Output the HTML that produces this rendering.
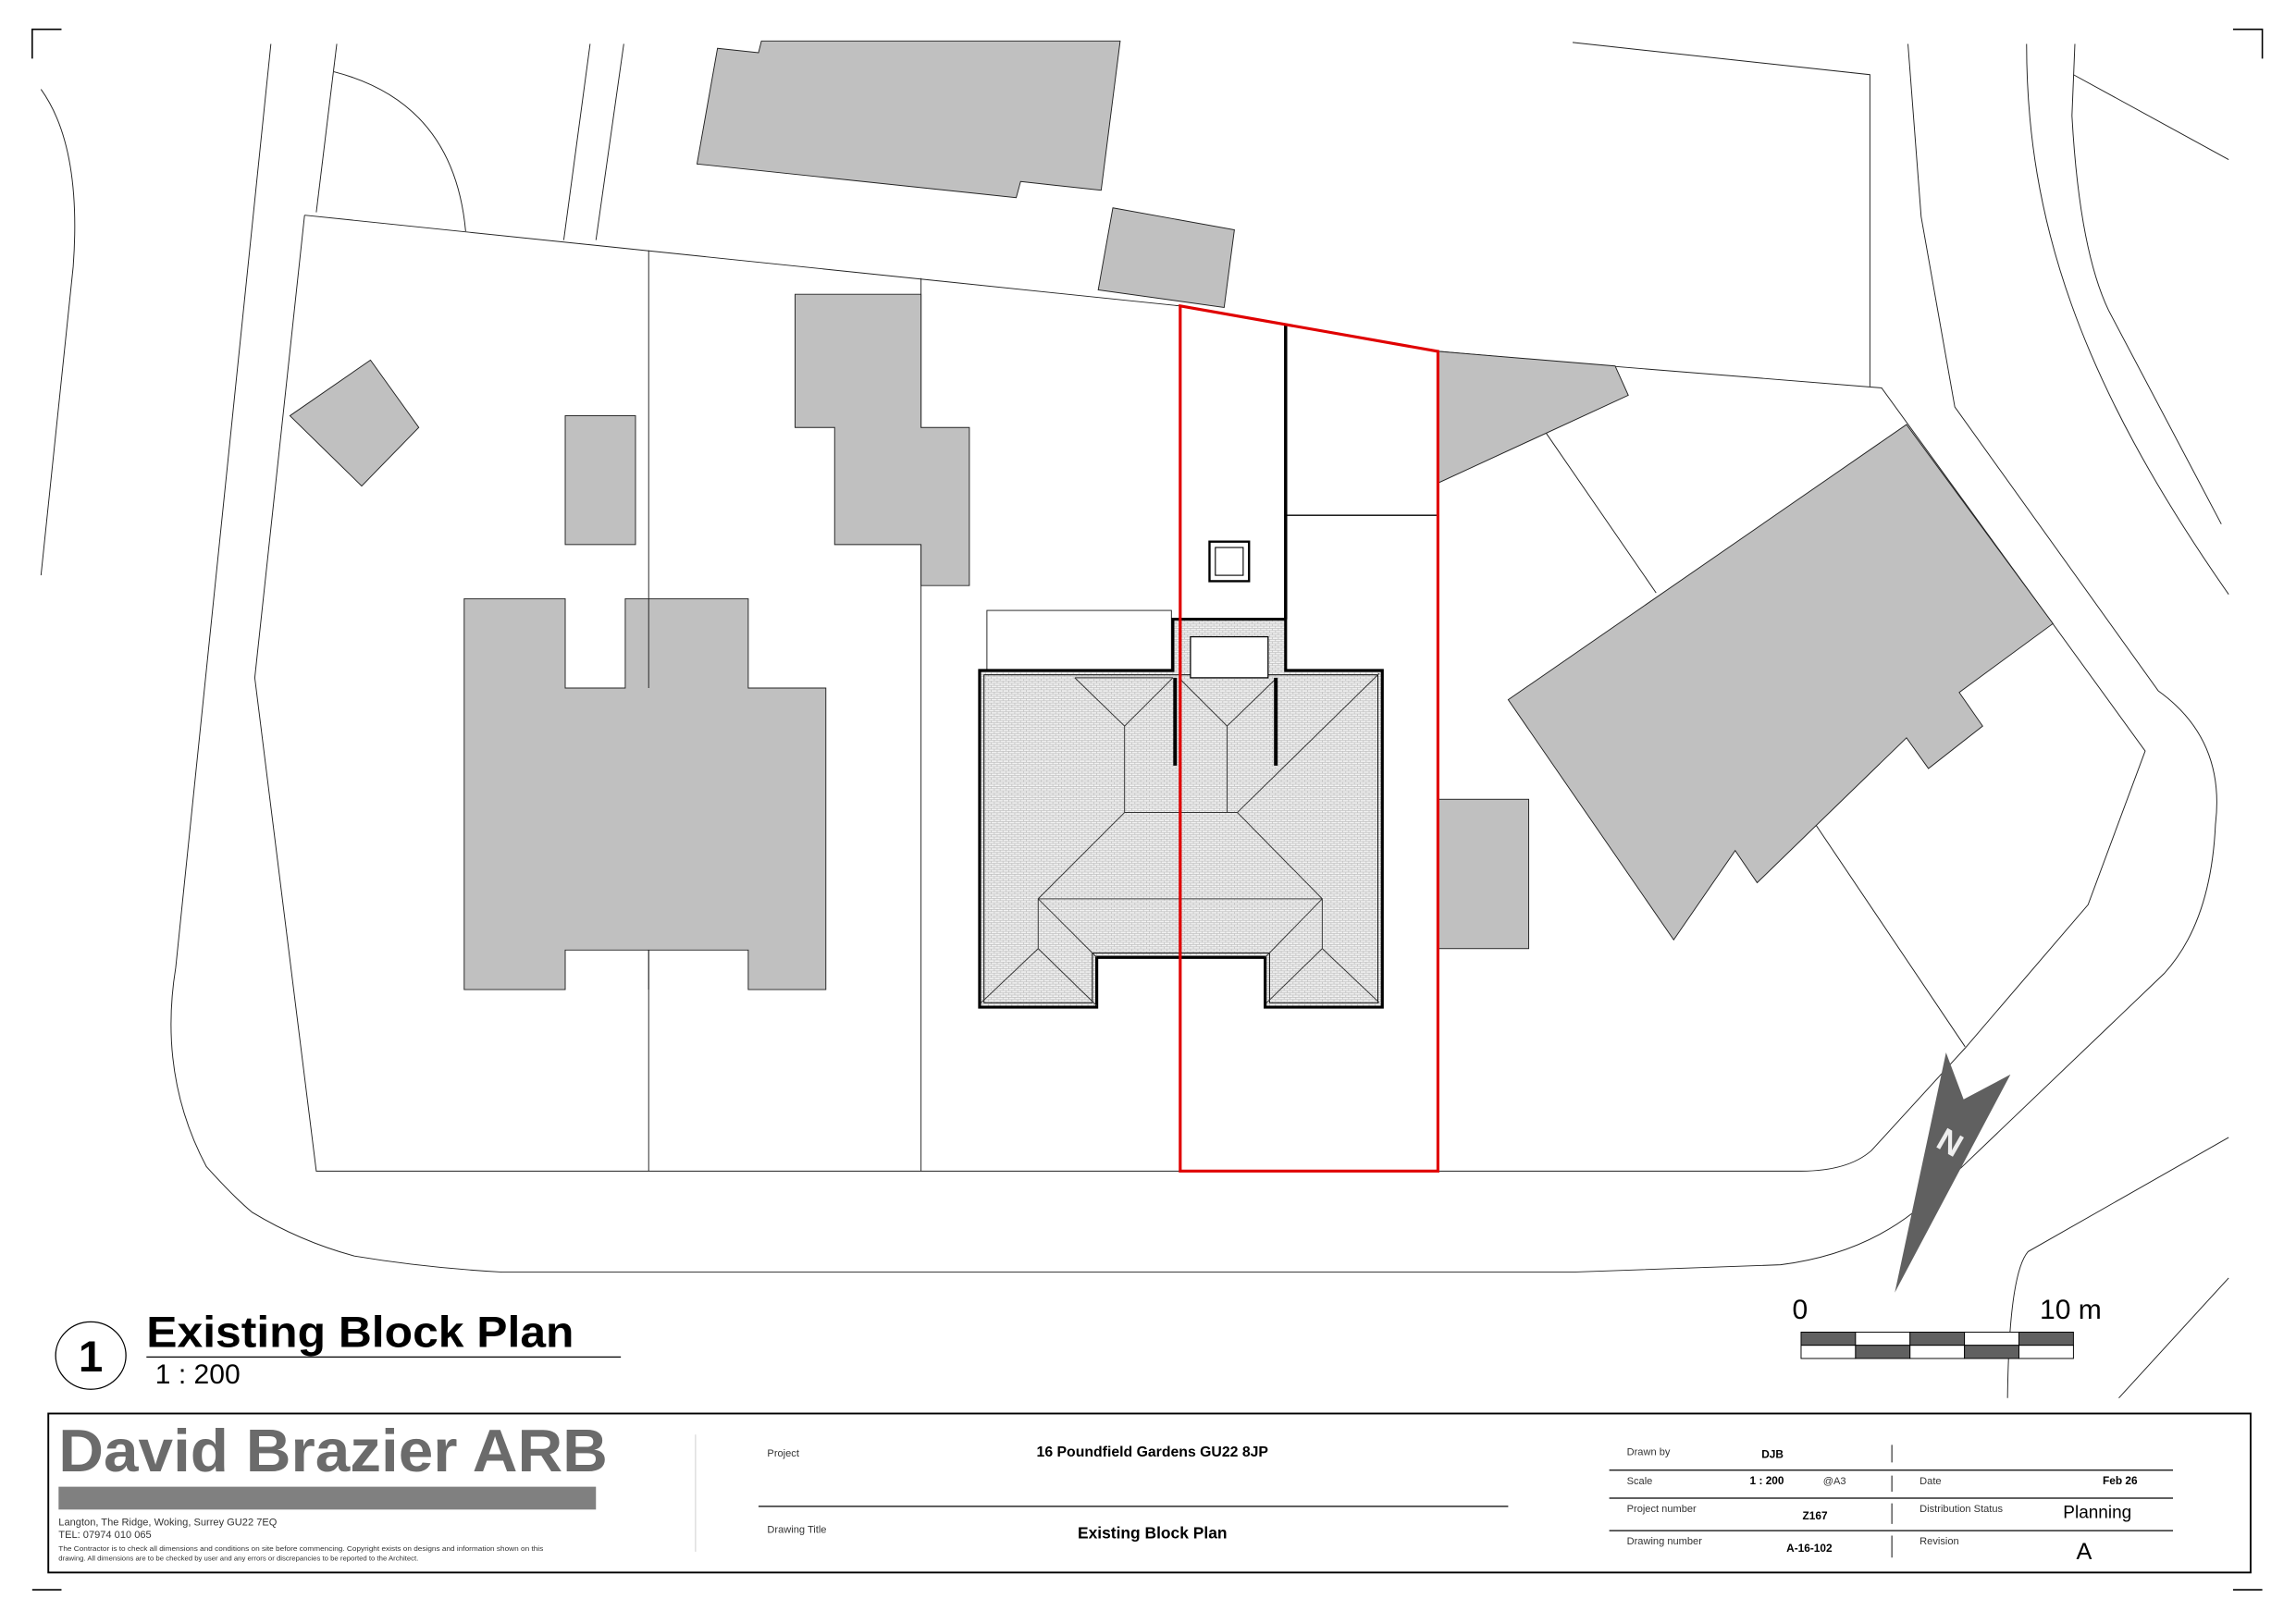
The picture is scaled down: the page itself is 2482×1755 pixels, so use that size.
<!DOCTYPE html>
<html><head><meta charset="utf-8"><style>html,body{margin:0;padding:0;background:#fff}svg{display:block}</style></head>
<body>
<svg width="2482" height="1755" viewBox="0 0 1568 1108.7" preserveAspectRatio="none" xmlns="http://www.w3.org/2000/svg" font-family="Liberation Sans, sans-serif">
<defs>
<pattern id="tile" width="4" height="3" patternUnits="userSpaceOnUse">
<rect width="4" height="3" fill="#f2f2f2"/>
<path d="M0 0.25H4M1 0V1.5M3 1.5V3M0 1.75H4" stroke="#bdbdbd" stroke-width="0.45"/>
</pattern>
</defs>
<rect width="1568" height="1108.7" fill="#fff"/>
<g fill="none" stroke="#000" stroke-width="1">
<path d="M22 40V20H42M1525 20H1545V40M22 1086H42M1525 1086H1545"/>
</g>
<g fill="none" stroke="#222" stroke-width="0.6">
<path d="M28 61Q56 100 50 182L28 393"/>
<path d="M185 30L120 661Q108 735 141 797Q160 818 172 828Q205 848 242 858Q290 866 343 869L1074 869L1216 864Q1270 857 1307 828L1339 798"/>
<path d="M230 30L216 145"/>
<path d="M228 49Q310 70 318 158"/>
<path d="M208 147L174 463L216 800L1230 800Q1262 800 1278 786L1342 716L1426 618L1465 513L1285 265L1074 248"/>
<path d="M208 147L806 209"/>
<path d="M982 240L1074 248"/>
<path d="M403 30L385 164M426 30L407 164"/>
<path d="M443 171V800M629 190V800"/>
<path d="M1074 29L1277 51V264"/>
<path d="M1303 30L1312 148L1335 278L1474 472Q1520 505 1513 563Q1510 630 1478 665L1339 798"/>
<path d="M1056 296L1131 405M1231 550L1342 715"/>
<path d="M1384 30C1384 150 1420 260 1522 406"/>
<path d="M1417 30L1415 79Q1420 170 1440 212L1517 358"/>
<path d="M1416 51L1522 109"/>
<path d="M1522 777L1385 855Q1372 870 1371 955M1522 873L1447 955"/>
</g>
<g fill="#c0c0c0" stroke="#222" stroke-width="0.6">
<path d="M490 33L518 36L520 28L765 28L752 130L697 124L694 135L476 112Z"/>
<path d="M760 142L843 157L836 210L750 198Z"/>
<path d="M198 284L253 246L286 292L247 332Z"/>
<rect x="386" y="284" width="48" height="88"/>
<path d="M317 409H386V470H427V409H511V470H564V676H511V649H386V676H317Z"/>
<path d="M543 201H629V292H662V400H629V372H570V292H543Z"/>
<path d="M982 240L1103 250L1112 270L982 330Z"/>
<path d="M1302 290L1402 426L1338 473L1354 496L1317 525L1302 504L1200 603L1185 581L1143 642L1030 478Z"/>
<rect x="982" y="546" width="62" height="102"/>
</g>
<path d="M443 409V470M443 649V676" stroke="#222" stroke-width="0.6"/>
<rect x="674" y="417" width="126" height="43" fill="#fff" stroke="#222" stroke-width="0.6"/>
<path d="M669 458H801V423H878V458H944V688H864V654H749V688H669Z" fill="url(#tile)" stroke="#000" stroke-width="2"/>
<path d="M672 461H941V685H867V651H746V685H672Z" fill="none" stroke="#000" stroke-width="0.6"/>
<rect x="813" y="435" width="53" height="28" fill="#fff" stroke="#000" stroke-width="0.8"/>
<g stroke="#333" stroke-width="0.6" fill="none">
<path d="M734 463L768 496L801 463M768 496V555M806 464L838 496L871 464M838 496V555M768 555H845"/>
<path d="M768 555L709 614L749 654M845 555L903 614L864 654M845 555L942 460M709 614V648L670 685M709 648L749 687M903 614V648L942 685M903 648L865 685M709 614H903"/>
<path d="M734 463H801"/>
</g>
<path d="M802.5 463V523M871.3 463V523" stroke="#000" stroke-width="2.5"/>
<path d="M878 221V423" stroke="#000" stroke-width="2.2"/>
<path d="M878 352H982" stroke="#000" stroke-width="0.8"/>
<rect x="826" y="370" width="27" height="27" fill="#fff" stroke="#000" stroke-width="1.5"/>
<rect x="830" y="374" width="19" height="19" fill="none" stroke="#000" stroke-width="0.7"/>
<path d="M806 209L982 240V800H806Z" fill="none" stroke="#e00000" stroke-width="2"/>
<path d="M1329 719L1341 751L1373 734L1294 883Z" fill="#606060"/>
<text x="1332" y="788" fill="#eee" font-size="22" font-weight="bold" text-anchor="middle" transform="rotate(30 1332 780)">N</text>
<text x="1224" y="901" font-size="19">0</text>
<text x="1393" y="901" font-size="19">10 m</text>
<g stroke="#000" stroke-width="0.6">
<rect x="1230" y="910" width="37.2" height="9" fill="#606060"/><rect x="1267.2" y="910" width="37.2" height="9" fill="#fff"/><rect x="1304.4" y="910" width="37.2" height="9" fill="#606060"/><rect x="1341.6" y="910" width="37.2" height="9" fill="#fff"/><rect x="1378.8" y="910" width="37.2" height="9" fill="#606060"/>
<rect x="1230" y="919" width="37.2" height="9" fill="#fff"/><rect x="1267.2" y="919" width="37.2" height="9" fill="#606060"/><rect x="1304.4" y="919" width="37.2" height="9" fill="#fff"/><rect x="1341.6" y="919" width="37.2" height="9" fill="#606060"/><rect x="1378.8" y="919" width="37.2" height="9" fill="#fff"/>
</g>
<ellipse cx="62" cy="926" rx="24" ry="23" fill="none" stroke="#000" stroke-width="0.8"/>
<text x="62" y="937" font-size="30" font-weight="bold" text-anchor="middle">1</text>
<text x="100" y="920" font-size="30" font-weight="bold" textLength="292" lengthAdjust="spacingAndGlyphs">Existing Block Plan</text>
<path d="M100 927H424" stroke="#000" stroke-width="0.8"/>
<text x="106" y="945" font-size="19">1 : 200</text>
<rect x="33" y="965.6" width="1504" height="108.6" fill="none" stroke="#000" stroke-width="1.2"/>
<text x="40" y="1005" font-size="41" font-weight="bold" fill="#6b6b6b" textLength="375" lengthAdjust="spacingAndGlyphs">David Brazier ARB</text>
<rect x="40" y="1015.6" width="367" height="15.6" fill="#808080"/>
<text x="40" y="1042" font-size="7" fill="#333">Langton, The Ridge, Woking, Surrey GU22 7EQ</text>
<text x="40" y="1050.5" font-size="7" fill="#333">TEL: 07974 010 065</text>
<text x="40" y="1059.5" font-size="4.9" fill="#333" textLength="331" lengthAdjust="spacingAndGlyphs">The Contractor is to check all dimensions and conditions on site before commencing. Copyright exists on designs and information shown on this</text>
<text x="40" y="1066" font-size="4.9" fill="#333">drawing. All dimensions are to be checked by user and any errors or discrepancies to be reported to the Architect.</text>
<path d="M475 980V1060" stroke="#ccc" stroke-width="0.6"/>
<path d="M518 1029H1030" stroke="#000" stroke-width="0.8"/>
<text x="524" y="995" font-size="7" fill="#333">Project</text>
<text x="787" y="995" font-size="10" font-weight="bold" text-anchor="middle">16 Poundfield Gardens GU22 8JP</text>
<text x="524" y="1047" font-size="7" fill="#333">Drawing Title</text>
<text x="787" y="1051" font-size="11" font-weight="bold" text-anchor="middle">Existing Block Plan</text>
<g stroke="#000" stroke-width="0.8"><path d="M1099 1004.3H1484M1099 1023.4H1484M1099 1045.6H1484"/>
<path d="M1292 987V999M1292 1008V1019M1292 1027V1041M1292 1049V1064" stroke-width="0.6"/></g>
<g font-size="7" fill="#333">
<text x="1111" y="994">Drawn by</text><text x="1111" y="1014">Scale</text><text x="1245" y="1014">@A3</text><text x="1311" y="1014">Date</text>
<text x="1111" y="1033">Project number</text><text x="1311" y="1033">Distribution Status</text>
<text x="1111" y="1055">Drawing number</text><text x="1311" y="1055">Revision</text></g>
<g font-size="7.5" font-weight="bold">
<text x="1203" y="996">DJB</text><text x="1195" y="1014">1 : 200</text><text x="1436" y="1014">Feb 26</text>
<text x="1231" y="1038">Z167</text><text x="1220" y="1060">A-16-102</text></g>
<text x="1409" y="1037" font-size="12">Planning</text>
<text x="1418" y="1065" font-size="16">A</text>
</svg>
</body></html>
